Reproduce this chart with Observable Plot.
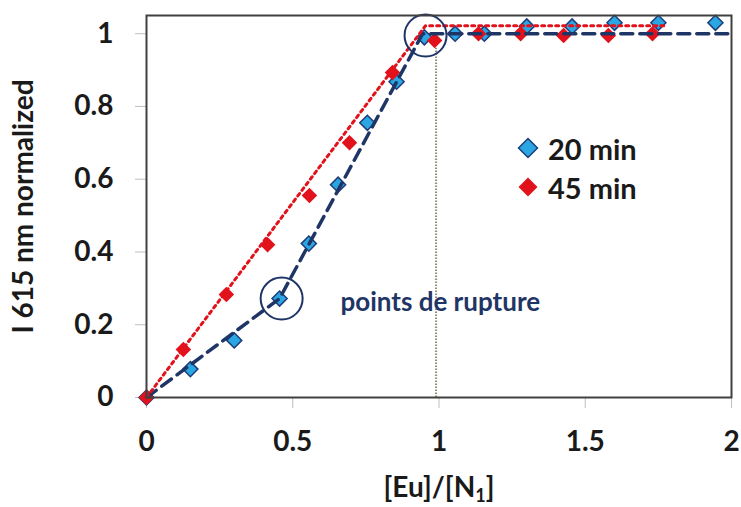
<!DOCTYPE html>
<html>
<head>
<meta charset="utf-8">
<script src="https://cdn.jsdelivr.net/npm/d3@7"></script>
<script src="https://cdn.jsdelivr.net/npm/@observablehq/plot@0.6"></script>
<style>
  html, body { margin: 0; padding: 0; background: #fff; }
  #wrap { position: relative; width: 741px; height: 507px; font-family: Lato, "Open Sans", sans-serif; }
  #wrap svg [aria-label$="axis tick"] { stroke: #bfbfbf; }
  .leg { position: absolute; left: 517px; display: flex; align-items: center; height: 36px;
         font: bold 29px Lato, sans-serif; color: #1a1a1a; }
  .leg svg { margin-right: 9px; }
</style>
</head>
<body>
<div id="wrap"></div>
<script>
// ---- data ----
const seriesNames = ["20 min", "45 min"];
const x20 = [0, 0.15, 0.30, 0.455, 0.555, 0.655, 0.755, 0.855, 0.95, 1.055, 1.155, 1.30, 1.455, 1.60, 1.75, 1.945];
const y20 = [0, 0.078, 0.157, 0.272, 0.423, 0.585, 0.755, 0.868, 0.99, 1.0, 1.0, 1.02, 1.02, 1.03, 1.03, 1.03];
const x45 = [0, 0.126, 0.273, 0.414, 0.557, 0.694, 0.841, 0.985, 1.135, 1.279, 1.426, 1.579, 1.73];
const y45 = [0, 0.132, 0.283, 0.42, 0.555, 0.70, 0.893, 0.981, 1.0, 1.0, 0.995, 0.995, 1.0];
// fitted break-point lines
const fit20X = [0, 0.455, 0.944, 2];
const fit20Y = [0, 0.272, 1.0, 1.0];
const fit45X = [0, 0.954, 1.77];
const fit45Y = [0, 1.022, 1.022];
// break points (circled) and vertical marker
const breakX = [0.462, 0.954];
const breakY = [0.272, 0.995];
const vLineX = [0.99];
const vLineY = [0, 0.96];
const annotX = [0.663], annotY = [0.262], annotText = ["points de rupture"];
const xTicks = [0, 0.5, 1, 1.5, 2];
const yTicks = [0, 0.2, 0.4, 0.6, 0.8, 1];
const xLabel = "[Eu]/[N1]";
const yLabel = "I 615 nm normalized";

const colors = { blue: "#2AA6E2", blueStroke: "#1F3D7A", red: "#E2121C", navy: "#1F3566", olive: "#8C8C6E" };

const d20 = x20.map((x, i) => ({x, y: y20[i]}));
const d45 = x45.map((x, i) => ({x, y: y45[i]}));
const f20 = fit20X.map((x, i) => ({x, y: fit20Y[i]}));
const f45 = fit45X.map((x, i) => ({x, y: fit45Y[i]}));
const brk = breakX.map((x, i) => ({x, y: breakY[i]}));
const ann = annotX.map((x, i) => ({x, y: annotY[i], t: annotText[i]}));

const chart = Plot.plot({
  width: 741, height: 507,
  marginLeft: 146, marginRight: 10, marginTop: 15, marginBottom: 110,
  style: { fontFamily: "Lato, 'Open Sans', sans-serif", fontWeight: "bold", fontSize: "28px", background: "white", color: "#1a1a1a" },
  x: { domain: [0, 2] },
  y: { domain: [0, 1.05] },
  marks: [
    Plot.axisX({ ticks: xTicks, tickFormat: d => String(d), tickSize: 11, tickPadding: 23,
      label: xLabel, labelArrow: "none", labelAnchor: "center", labelOffset: 99 }),
    Plot.axisY({ ticks: yTicks, tickFormat: d => String(d), tickSize: 11, tickPadding: 22,
      label: yLabel, labelArrow: "none", labelAnchor: "center", labelOffset: 133 }),
    Plot.ruleX(vLineX, { y1: vLineY[0], y2: vLineY[1], stroke: colors.olive, strokeWidth: 2, strokeDasharray: "1.5 1.5" }),
    Plot.dot(d20, { x: "x", y: "y", symbol: "diamond2", r: 6.8, fill: colors.blue, stroke: colors.blueStroke, strokeWidth: 1.5 }),
    Plot.dot(d45, { x: "x", y: "y", symbol: "diamond2", r: 7, fill: colors.red }),
    Plot.line(f20, { x: "x", y: "y", stroke: colors.navy, strokeWidth: 3.5, strokeDasharray: "12 7" }),
    Plot.line(f45, { x: "x", y: "y", stroke: colors.red, strokeWidth: 3, strokeDasharray: "3 4" }),
    Plot.dot(brk, { x: "x", y: "y", r: 21, stroke: colors.navy, strokeWidth: 2, fill: "none" }),
    Plot.text(ann, { x: "x", y: "y", text: "t", textAnchor: "start", lineAnchor: "middle", fill: colors.navy, fontSize: 26, fontWeight: "bold" }),
    Plot.frame({ stroke: "#404040", strokeWidth: 2 })
  ]
});

const wrap = document.getElementById("wrap");
wrap.appendChild(chart);

const ns = "http://www.w3.org/2000/svg";
// make sure y label has no arrow
const yl = chart.querySelector('[aria-label="y-axis label"] text');
if (yl) yl.textContent = yLabel;
// subscript on x-axis label
const xl = chart.querySelector('[aria-label="x-axis label"] text');
if (xl) {
  xl.textContent = "";
  const t1 = document.createElementNS(ns, "tspan"); t1.textContent = xLabel.slice(0, 7);
  const t2 = document.createElementNS(ns, "tspan"); t2.textContent = xLabel.slice(7, 8); t2.setAttribute("dy", "5"); t2.setAttribute("font-size", "18");
  const t3 = document.createElementNS(ns, "tspan"); t3.textContent = xLabel.slice(8); t3.setAttribute("dy", "-5");
  xl.append(t1, t2, t3);
}

// legend
const legendColors = [[colors.blue, colors.blueStroke], [colors.red, "none"]];
const legendTops = [130, 169];
seriesNames.forEach((name, i) => {
  const row = document.createElement("div");
  row.className = "leg";
  row.style.top = legendTops[i] + "px";
  row.innerHTML = `<svg width="22" height="22" viewBox="-11 -11 22 22"><path d="M0,-9.5L9.5,0L0,9.5L-9.5,0Z" fill="${legendColors[i][0]}" stroke="${legendColors[i][1]}" stroke-width="1.5"/></svg><span>${name}</span>`;
  wrap.appendChild(row);
});
</script>
</body>
</html>
